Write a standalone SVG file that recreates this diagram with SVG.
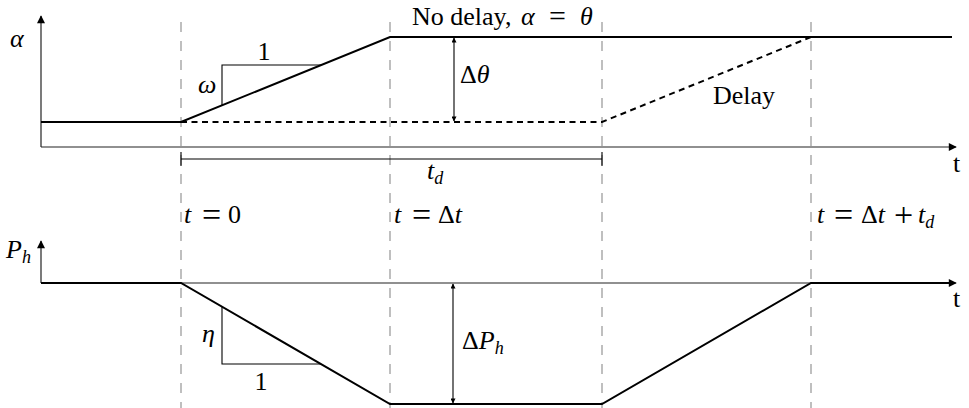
<svg xmlns="http://www.w3.org/2000/svg" width="969" height="408" viewBox="0 0 969 408">
<style>
.g{stroke:#aaa;stroke-width:1.5;stroke-dasharray:10 9;fill:none}
.ax{stroke:#222;stroke-width:1.2;fill:none}
.th{stroke:#000;stroke-width:2;fill:none}
.dl{stroke:#000;stroke-width:2;fill:none;stroke-dasharray:6 4.5}
.tn{stroke:#000;stroke-width:1.1;fill:none}
text, tspan{font-family:'Liberation Serif',serif !important}
.i{font-style:italic}
.s{font-size:18px;font-style:italic}
.op{font-size:34px}
.op2{font-size:30px}
</style>
<defs>
<marker id="ah" viewBox="0 0 10 10" refX="9" refY="5" markerWidth="9" markerHeight="8" markerUnits="userSpaceOnUse" orient="auto-start-reverse"><path d="M0,0 L10,5 L0,10 z" fill="#000"/></marker>
<marker id="sa" viewBox="0 0 10 10" refX="9" refY="5" markerWidth="6" markerHeight="5" markerUnits="userSpaceOnUse" orient="auto-start-reverse"><path d="M0,0 L10,5 L0,10 z" fill="#000"/></marker>
</defs>
<g id="guides">
<path class="g" d="M181,22 V408 M390,22 V408 M602,22 V408 M811,22 V408"/>
</g>
<g id="top-plot">
<path class="ax" d="M41,147 V16" marker-end="url(#ah)"/>
<path class="ax" d="M41,147 H956" marker-end="url(#ah)"/>
<path class="th" d="M41,122 H181 L390,37 H952"/>
<path class="dl" d="M181,122 H602 L811,37 H952"/>
<path class="tn" d="M222,105 V65 H321"/>
<path class="tn" d="M454,38 V121" marker-start="url(#sa)" marker-end="url(#sa)"/>
<path class="tn" d="M181,152 V166 M181,159 H602 M602,152 V166"/>
</g>
<g id="bottom-plot">
<path class="ax" d="M41,283 V241" marker-end="url(#ah)"/>
<path class="ax" d="M41,283 H956" marker-end="url(#ah)"/>
<path class="th" d="M41,283 H181 L390,404 H602 L811,283 H952"/>
<path class="tn" d="M222,307 V364 H321"/>
<path class="tn" d="M453,284 V403" marker-start="url(#sa)" marker-end="url(#sa)"/>
</g>
<g id="labels" fill="#000">
<text style="font-family:'Liberation Serif'" font-size="26" x="10" y="47" class="i">α</text>
<text style="font-family:'Liberation Serif'" font-size="26" x="264" y="60" text-anchor="middle">1</text>
<text style="font-family:'Liberation Serif'" font-size="26" x="198" y="93" class="i">ω</text>
<text style="font-family:'Liberation Serif'" font-size="26" y="25"><tspan x="412" y="25">No delay,</tspan><tspan x="521" y="25" class="i">α</tspan><tspan x="549" y="26" class="op2">=</tspan><tspan x="580" y="25" class="i">θ</tspan></text>
<text style="font-family:'Liberation Serif'" font-size="26" x="460" y="83">Δ<tspan class="i">θ</tspan></text>
<text style="font-family:'Liberation Serif'" font-size="26" x="713" y="104">Delay</text>
<text style="font-family:'Liberation Serif'" font-size="26" x="953" y="172">t</text>
<text style="font-family:'Liberation Serif'" font-size="26" x="427" y="179"><tspan class="i">t</tspan><tspan class="s" dy="5">d</tspan></text>
<text style="font-family:'Liberation Serif'" font-size="26" y="223"><tspan x="184" y="223" class="i">t</tspan><tspan x="202" y="226" class="op">=</tspan><tspan x="228" y="223">0</tspan></text>
<text style="font-family:'Liberation Serif'" font-size="26" y="223"><tspan x="394" y="223" class="i">t</tspan><tspan x="412" y="226" class="op">=</tspan><tspan x="438" y="223">Δ</tspan><tspan class="i">t</tspan></text>
<text style="font-family:'Liberation Serif'" font-size="26" y="223"><tspan x="817" y="223" class="i">t</tspan><tspan x="834" y="226" class="op">=</tspan><tspan x="861" y="223">Δ</tspan><tspan class="i">t</tspan><tspan x="894" y="226" class="op">+</tspan><tspan x="918" y="223" class="i">t</tspan><tspan class="s" dy="5">d</tspan></text>
<text style="font-family:'Liberation Serif'" font-size="26" x="6" y="258"><tspan class="i">P</tspan><tspan class="s" dy="5">h</tspan></text>
<text style="font-family:'Liberation Serif'" font-size="26" x="953" y="307">t</text>
<text style="font-family:'Liberation Serif'" font-size="26" x="202" y="342" class="i">η</text>
<text style="font-family:'Liberation Serif'" font-size="26" x="261" y="390" text-anchor="middle">1</text>
<text style="font-family:'Liberation Serif'" font-size="26" x="462" y="349">Δ<tspan class="i">P</tspan><tspan class="s" dy="5">h</tspan></text>
</g>
</svg>
